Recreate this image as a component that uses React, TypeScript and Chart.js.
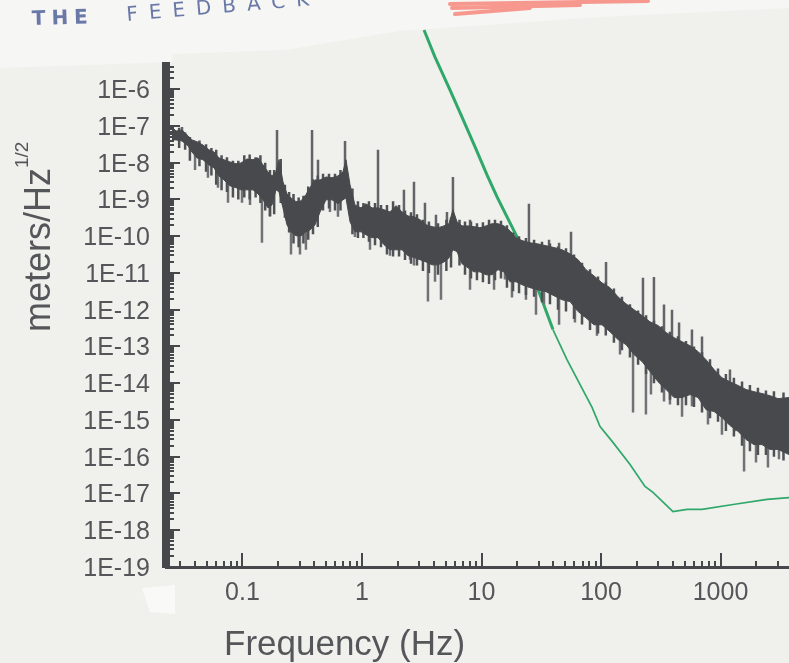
import React, { useEffect, useRef } from "react";
import { Chart, registerables } from "chart.js";

Chart.register(...registerables);

const pageWidth = 789;
const pageHeight = 663;

// Trace body: log10(Hz) with upper and lower edge as log10(m/√Hz)
const bandLogF = [-1.59,-1.556,-1.506,-1.456,-1.423,-1.381,-1.331,-1.28,-1.238,-1.197,-1.155,-1.105,-1.054,-1.013,-0.962,-0.912,-0.87,-0.828,-0.787,-0.753,-0.72,-0.695,-0.661,-0.628,-0.594,-0.552,-0.51,-0.469,-0.435,-0.393,-0.351,-0.301,-0.251,-0.201,-0.159,-0.134,-0.1,-0.059,-0.008,0.033,0.084,0.134,0.184,0.234,0.285,0.335,0.385,0.435,0.485,0.536,0.586,0.636,0.686,0.728,0.761,0.795,0.837,0.887,0.937,0.987,1.038,1.088,1.138,1.188,1.238,1.289,1.339,1.406,1.473,1.54,1.607,1.674,1.741,1.808,1.874,1.941,2.008,2.075,2.142,2.209,2.276,2.343,2.41,2.477,2.544,2.611,2.678,2.745,2.812,2.879,2.946,3.012,3.079,3.146,3.213,3.28,3.347,3.414,3.481,3.573];
const bandTop = [-7.03,-7.14,-7.11,-7.27,-7.38,-7.43,-7.52,-7.65,-7.71,-7.87,-7.92,-7.98,-8.03,-8.01,-7.9,-7.92,-7.87,-8.06,-8.25,-8.36,-8.25,-7.92,-8.52,-8.85,-8.96,-9.06,-9.04,-8.87,-8.68,-8.47,-8.47,-8.39,-8.41,-8.36,-8.25,-7.92,-8.6,-9.15,-9.23,-9.12,-9.23,-9.23,-9.28,-9.34,-9.17,-9.34,-9.45,-9.47,-9.55,-9.69,-9.74,-9.77,-9.72,-9.66,-9.28,-9.61,-9.72,-9.72,-9.74,-9.77,-9.72,-9.66,-9.66,-9.72,-9.85,-10.04,-10.12,-10.18,-10.21,-10.26,-10.31,-10.37,-10.48,-10.64,-10.91,-11.08,-11.27,-11.4,-11.65,-11.84,-12.0,-12.16,-12.33,-12.43,-12.62,-12.76,-12.87,-12.98,-13.14,-13.36,-13.63,-13.85,-13.96,-14.06,-14.17,-14.23,-14.28,-14.34,-14.42,-14.39];
const bandBottom = [-7.38,-7.38,-7.41,-7.54,-7.71,-7.87,-7.92,-8.06,-8.14,-8.36,-8.47,-8.63,-8.68,-8.74,-8.74,-8.74,-8.85,-9.01,-9.23,-9.15,-8.74,-8.79,-9.23,-9.69,-9.88,-9.99,-9.99,-9.88,-9.83,-9.69,-9.34,-9.01,-9.01,-9.12,-9.01,-8.96,-9.61,-9.88,-9.88,-9.96,-10.04,-10.04,-10.23,-10.37,-10.37,-10.37,-10.53,-10.58,-10.64,-10.7,-10.78,-10.78,-10.7,-10.59,-10.37,-10.42,-10.75,-10.86,-10.97,-10.97,-11.05,-11.05,-10.91,-10.97,-11.24,-11.24,-11.32,-11.4,-11.46,-11.51,-11.62,-11.73,-11.78,-12.05,-12.22,-12.41,-12.41,-12.6,-12.81,-12.95,-13.22,-13.41,-13.68,-13.96,-14.17,-14.39,-14.39,-14.31,-14.39,-14.72,-14.77,-14.93,-15.15,-15.31,-15.53,-15.67,-15.67,-15.8,-15.8,-15.94];

// Short hairlines that roughen the edges of the trace
const fringeLogF = [-1.53,-1.48,-1.44,-1.36,-1.305,-1.26,-1.22,-1.175,-1.13,-1.08,-1.035,-0.985,-0.94,-0.89,-0.85,-0.81,-0.77,-0.735,-0.68,-0.645,-0.61,-0.573,-0.53,-0.49,-0.45,-0.41,-0.37,-0.326,-0.276,-0.226,-0.18,-0.08,-0.034,0.012,0.058,0.109,0.159,0.209,0.26,0.31,0.36,0.41,0.46,0.51,0.56,0.636,0.706,0.745,0.816,0.862,0.912,0.962,1.012,1.063,1.113,1.163,1.213,1.264,1.314,1.372,1.44,1.506,1.573,1.64,1.707,1.774,1.841,1.908,1.975,2.04,2.108,2.175,2.242,2.31,2.377,2.443,2.51,2.577,2.644,2.711,2.778,2.845,2.912,2.979,3.045,3.112,3.18,3.246,3.313,3.38,3.447,3.527];
const fringeHigh = [-7.05,-7.18,-7.3,-7.4,-7.5,-7.6,-7.65,-7.8,-7.85,-7.95,-7.95,-7.8,-7.78,-7.85,-7.8,-8.0,-8.2,-8.2,-7.9,-8.6,-8.8,-8.85,-8.95,-8.9,-8.65,-8.45,-8.35,-8.3,-8.3,-8.3,-8.2,-8.7,-9.05,-9.1,-9.05,-9.1,-9.15,-9.15,-9.05,-9.15,-9.3,-9.35,-9.4,-9.55,-9.6,-9.65,-9.55,-9.5,-9.55,-9.6,-9.6,-9.65,-9.62,-9.55,-9.55,-9.58,-9.7,-9.9,-10.0,-10.05,-10.1,-10.15,-10.2,-10.28,-10.33,-10.5,-10.72,-10.9,-11.1,-11.25,-11.42,-11.65,-11.85,-12.02,-12.15,-12.3,-12.45,-12.6,-12.72,-12.85,-13.0,-13.15,-13.35,-13.6,-13.75,-13.85,-13.95,-14.05,-14.12,-14.2,-14.22,-14.25];
const fringeLow = [-7.6,-7.65,-7.95,-8.1,-8.25,-8.35,-8.6,-8.75,-8.8,-8.95,-9.0,-8.95,-9.0,-8.95,-9.1,-9.3,-9.45,-9.4,-9.1,-9.5,-9.9,-10.2,-10.3,-10.2,-10.1,-9.95,-9.75,-9.3,-9.25,-9.3,-9.3,-9.95,-10.05,-10.05,-10.15,-10.25,-10.3,-10.5,-10.55,-10.55,-10.65,-10.75,-10.8,-10.95,-11.0,-11.05,-10.95,-10.85,-10.8,-11.05,-11.15,-11.2,-11.25,-11.3,-11.2,-11.15,-11.4,-11.5,-11.55,-11.6,-11.65,-11.8,-11.85,-12.0,-12.05,-12.25,-12.4,-12.55,-12.65,-12.7,-12.9,-13.1,-13.3,-13.5,-13.75,-14.0,-14.25,-14.45,-14.6,-14.6,-14.65,-14.8,-14.95,-15.05,-15.3,-15.45,-15.7,-15.85,-15.95,-15.95,-16.0,-16.1];

// Narrow resonance lines sticking up out of the trace
const upLogF = [-1.506,-0.711,-0.418,-0.368,-0.142,0.134,0.351,0.435,0.527,0.619,0.711,0.761,0.904,1.397,1.565,1.649,1.749,2.042,2.351,2.443,2.527,2.594,2.653,2.761,2.845,3.079];
const upPeak = [-7.03,-7.11,-7.11,-7.92,-7.41,-7.65,-8.74,-8.52,-9.09,-9.42,-9.34,-8.39,-9.55,-9.12,-10.1,-10.18,-9.88,-10.7,-11.13,-11.11,-11.86,-12.0,-12.35,-12.54,-12.73,-13.63];
const upBase = [-7.24,-8.33,-9.01,-9.01,-8.74,-9.69,-9.96,-9.96,-10.1,-10.23,-10.1,-9.83,-10.23,-10.64,-10.64,-10.78,-10.91,-11.73,-12.54,-12.68,-12.95,-13.09,-13.22,-13.36,-13.49,-14.31];

// Narrow dips reaching below the trace
const downLogF = [-1.397,-1.289,-1.205,-1.121,-1.004,-0.937,-0.837,-0.77,-0.594,-0.519,-0.469,-0.268,-0.201,-0.059,0.067,0.234,0.402,0.435,0.552,0.611,0.661,0.904,1.105,1.196,1.255,1.372,1.456,1.523,1.649,1.782,1.858,1.966,2.159,2.268,2.376,2.418,2.527,2.577,2.678,2.761,2.895,3.012,3.121,3.197,3.297,3.397,3.489];
const downBase = [-7.79,-7.92,-8.06,-8.2,-8.47,-8.47,-8.74,-8.87,-9.69,-9.69,-9.69,-8.74,-8.74,-9.53,-9.69,-9.96,-10.23,-10.23,-10.37,-10.37,-10.37,-10.51,-10.78,-10.7,-10.91,-11.05,-11.18,-11.18,-11.46,-11.73,-11.86,-12.0,-12.54,-12.95,-13.22,-13.36,-13.77,-14.04,-14.04,-14.04,-14.31,-14.58,-14.85,-15.12,-15.26,-15.4,-15.53];
const downLow = [-8.2,-8.41,-8.68,-9.09,-9.09,-9.15,-10.18,-9.47,-10.5,-10.5,-10.37,-9.34,-9.47,-10.02,-10.37,-10.53,-10.64,-10.8,-11.78,-11.24,-11.73,-11.46,-11.46,-11.18,-11.67,-11.73,-12.14,-11.86,-12.41,-12.35,-12.19,-12.71,-13.22,-14.8,-14.85,-14.31,-14.5,-14.58,-14.91,-14.63,-15.12,-15.4,-15.31,-16.4,-16.16,-16.29,-16.07];

// Green hand-drawn curve
const greenLogF = [0.519,0.611,0.736,0.837,0.946,1.046,1.13,1.297,1.464,1.598,1.715,1.925,1.992,2.1,2.243,2.368,2.435,2.602,2.72,2.845,3.105,3.389,3.573];
const greenExp = [-4.39,-5.13,-6.02,-6.76,-7.57,-8.33,-8.93,-10.02,-11.37,-12.54,-13.36,-14.66,-15.18,-15.61,-16.21,-16.81,-16.97,-17.49,-17.43,-17.43,-17.3,-17.16,-17.11];

const xMinLog = -1.64;
const xMaxLog = 3.573;
const yMinExp = -19;
const yMaxExp = -5.37;

const pts = (lf: number[], e: number[]) => lf.map((v, i) => ({ x: 10 ** v, y: 10 ** e[i] }));
const segs = (lf: number[], a: number[], b: number[]) =>
  lf.flatMap((v, i) => [
    { x: 10 ** v, y: 10 ** a[i] },
    { x: 10 ** v, y: 10 ** b[i] },
    { x: 10 ** v, y: NaN },
  ]);

const isDecade = (v: number) => Math.abs(Math.log10(v) - Math.round(Math.log10(v))) < 1e-6;
const isWhole = (v: number) => {
  const m = v / 10 ** Math.floor(Math.log10(v) + 1e-9);
  return Math.abs(m - Math.round(m)) < 1e-6;
};

const scanPlugin = {
  id: "scan",
  beforeDraw(chart: any) {
    const c = chart.ctx;
    c.save();
    c.fillStyle = "#f6f6f4";
    c.fillRect(0, 0, pageWidth, pageHeight);
    // pasted sheet
    c.fillStyle = "#f0f0ec";
    c.beginPath();
    c.moveTo(0, 68);
    c.lineTo(172, 62);
    c.lineTo(173, 54);
    c.lineTo(285, 50);
    c.lineTo(400, 31);
    c.lineTo(600, 17);
    c.lineTo(789, 8);
    c.lineTo(789, 663);
    c.lineTo(0, 663);
    c.closePath();
    c.fill();
    // pale correction patch
    c.fillStyle = "#f9f9f7";
    c.beginPath();
    c.moveTo(142, 588);
    c.lineTo(175, 585);
    c.lineTo(175, 614);
    c.lineTo(150, 612);
    c.closePath();
    c.fill();
    // handwriting
    c.fillStyle = "#6a78a8";
    c.font = "bold 20px 'DejaVu Sans'";
    c.textAlign = "left";
    c.textBaseline = "alphabetic";
    (c as any).letterSpacing = "6px";
    c.save();
    c.translate(32, 25);
    c.rotate(-0.03);
    c.fillText("THE", 0, 0);
    c.restore();
    c.save();
    c.font = "20px 'DejaVu Sans'";
    (c as any).letterSpacing = "11px";
    c.translate(127, 21);
    c.rotate(-0.085);
    c.fillText("FEEDBACK", 0, 0);
    c.restore();
    (c as any).letterSpacing = "0px";
    // red pencil scribble
    c.strokeStyle = "#f7988e";
    c.lineWidth = 4;
    c.lineCap = "round";
    [[450, 4, 648, 1], [452, 8, 580, 5], [455, 14, 530, 8]].forEach(([a, b, d, e]) => {
      c.beginPath();
      c.moveTo(a, b);
      c.lineTo(d, e);
      c.stroke();
    });
    c.restore();
  },
  afterDatasetsDraw(chart: any) {
    const c = chart.ctx;
    const { x, y } = chart.scales;
    const { left, bottom } = chart.chartArea;
    c.save();
    c.strokeStyle = "#47484b";
    y.ticks.forEach((t: any) => {
      if (!isWhole(t.value)) return;
      const p = Math.round(y.getPixelForValue(t.value));
      c.lineWidth = 2;
      c.beginPath();
      c.moveTo(left - 4, p);
      c.lineTo(left + (isDecade(t.value) ? 14 : 8), p);
      c.stroke();
    });
    x.ticks.forEach((t: any) => {
      if (!isWhole(t.value)) return;
      const p = Math.round(x.getPixelForValue(t.value));
      c.lineWidth = 2;
      c.beginPath();
      c.moveTo(p, bottom);
      c.lineTo(p, bottom - (isDecade(t.value) ? 14 : 6));
      c.stroke();
    });
    // axis titles
    c.fillStyle = "#55565a";
    c.textBaseline = "alphabetic";
    c.textAlign = "left";
    c.font = "35px 'Liberation Sans'";
    c.fillText("Frequency (Hz)", 224, 655);
    c.translate(50, 332);
    c.rotate(-Math.PI / 2);
    c.font = "36px 'Liberation Sans'";
    c.fillText("meters/Hz", 0, 0);
    c.font = "19px 'Liberation Sans'";
    c.fillText("1/2", 164, -22);
    c.restore();
  },
};

export default function App() {
  const ref = useRef<HTMLCanvasElement>(null);
  useEffect(() => {
    if (!ref.current) return;
    const chart = new Chart(ref.current, {
      type: "scatter",
      plugins: [scanPlugin],
      data: {
        datasets: [
          {
            label: "Feedback curve",
            data: pts(greenLogF, greenExp),
            showLine: true,
            borderColor: "#2fa86a",
            borderWidth: 2,
            segment: { borderWidth: (s: any) => (s.p0DataIndex < 9 ? 3 : 1.7) },
            pointRadius: 0,
            clip: false,
            order: 5,
          },
          {
            label: "Dips",
            data: segs(downLogF, downBase, downLow),
            showLine: true,
            spanGaps: false,
            borderColor: "#717276",
            borderWidth: 2.5,
            pointRadius: 0,
            clip: false,
            order: 4,
          },
          {
            label: "Lines",
            data: segs(upLogF, upPeak, upBase),
            showLine: true,
            spanGaps: false,
            borderColor: "#636468",
            borderWidth: 2.5,
            pointRadius: 0,
            clip: false,
            order: 3,
          },
          {
            label: "Fringe",
            data: segs(fringeLogF, fringeHigh, fringeLow),
            showLine: true,
            spanGaps: false,
            borderColor: "#505154",
            borderWidth: 2.5,
            pointRadius: 0,
            clip: false,
            order: 2,
          },
          {
            label: "Trace top",
            data: pts(bandLogF, bandTop),
            showLine: true,
            borderColor: "#48494c",
            backgroundColor: "#48494c",
            borderWidth: 1,
            pointRadius: 0,
            clip: false,
            fill: false,
            order: 1,
          },
          {
            label: "Trace bottom",
            data: pts(bandLogF, bandBottom),
            showLine: true,
            borderColor: "#48494c",
            backgroundColor: "#48494c",
            borderWidth: 1,
            pointRadius: 0,
            clip: false,
            fill: "-1",
            order: 1,
          },
        ],
      },
      options: {
        responsive: false,
        animation: false,
        events: [],
        layout: { autoPadding: false, padding: { top: 66, right: 0, left: 0, bottom: 0 } },
        plugins: { legend: { display: false }, tooltip: { enabled: false }, title: { display: false } },
        scales: {
          x: {
            type: "logarithmic",
            min: 10 ** xMinLog,
            max: 10 ** xMaxLog,
            afterFit: (s: any) => {
              s.height = 96;
              s.paddingRight = 0;
              s.paddingLeft = 0;
            },
            grid: { drawOnChartArea: false, drawTicks: false },
            border: { display: true, color: "#47484b", width: 3 },
            ticks: {
              autoSkip: false,
              maxRotation: 0,
              padding: 11,
              color: "#55565a",
              font: { family: "'Liberation Sans'", size: 25 },
              callback: (v: any) => (isDecade(Number(v)) ? String(Number(Number(v).toPrecision(1))) : ""),
            },
          },
          y: {
            type: "logarithmic",
            min: 10 ** yMinExp,
            max: 10 ** yMaxExp,
            afterFit: (s: any) => {
              s.width = 166;
              s.paddingTop = 0;
              s.paddingBottom = 0;
            },
            grid: { drawOnChartArea: false, drawTicks: false },
            border: { display: true, color: "#47484b", width: 8 },
            ticks: {
              autoSkip: false,
              padding: 16,
              labelOffset: 2,
              color: "#55565a",
              font: { family: "'Liberation Sans'", size: 25 },
              callback: (v: any) => (isDecade(Number(v)) ? `1E${Math.round(Math.log10(Number(v)))}` : ""),
            },
          },
        },
      },
    });
    return () => chart.destroy();
  }, []);
  return (
    <div style={{ position: "fixed", left: 0, top: 0, width: pageWidth, height: pageHeight, overflow: "hidden" }}>
      <canvas ref={ref} width={pageWidth} height={pageHeight} style={{ display: "block", filter: "blur(0.7px)" }} />
    </div>
  );
}
